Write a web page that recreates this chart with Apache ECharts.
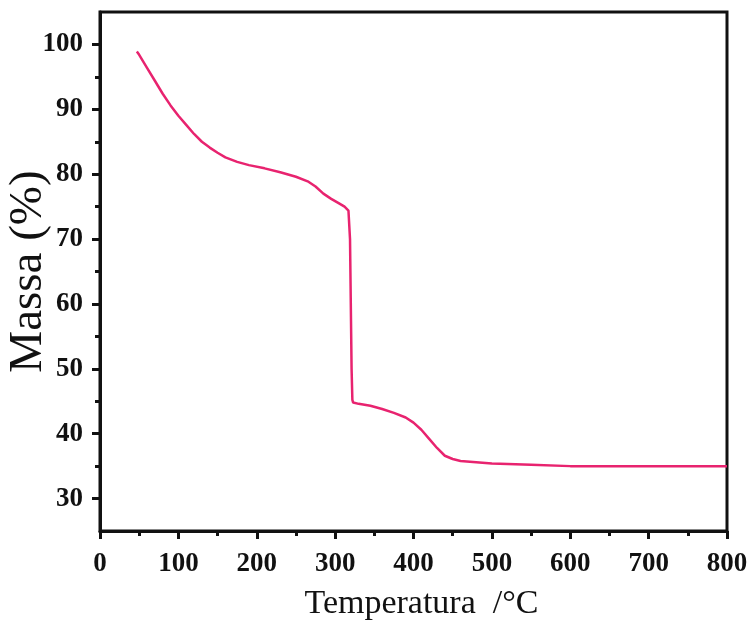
<!DOCTYPE html>
<html>
<head>
<meta charset="utf-8">
<script src="https://cdn.jsdelivr.net/npm/echarts@6/dist/echarts.min.js"></script>
<style>
html,body{margin:0;padding:0;background:#fff;}
#chart{width:749px;height:627px;}
</style>
</head>
<body>
<div id="chart"></div>
<script>
var temperature = [47, 50, 60, 70, 80, 90, 100, 110, 120, 130, 140, 150, 160, 175, 190, 210, 230, 250, 265, 275, 285, 295, 305, 312, 317, 319, 320, 321, 322, 323, 330, 345, 360, 375, 390, 400, 410, 420, 430, 440, 450, 460, 480, 500, 550, 600, 650, 700, 750, 800];
var massa = [98.9, 98.4, 96.4, 94.4, 92.4, 90.6, 89.0, 87.6, 86.2, 85.0, 84.1, 83.3, 82.6, 81.9, 81.4, 80.9, 80.3, 79.6, 78.9, 78.1, 77.0, 76.2, 75.5, 75.0, 74.4, 70, 60, 50, 45.2, 44.8, 44.6, 44.3, 43.8, 43.2, 42.5, 41.7, 40.6, 39.2, 37.8, 36.6, 36.1, 35.8, 35.6, 35.4, 35.2, 35.0, 35.0, 35.0, 35.0, 35.0];
var yMajorTicks = [30, 40, 50, 60, 70, 80, 90, 100];
var yMinorTicks = [35, 45, 55, 65, 75, 85, 95];
var xTitle = 'Temperatura  /°C';
var yTitle = 'Massa (%)';

var pts = temperature.map(function (t, i) { return [t, massa[i]]; });
var serif = '"Liberation Serif", "DejaVu Serif", serif';

var chart = echarts.init(document.getElementById('chart'), null, {renderer: 'canvas'});
chart.setOption({
  animation: false,
  backgroundColor: '#fff',
  grid: {left: 100, right: 22, top: 12, bottom: 96, containLabel: false, outerBoundsMode: 'none', show: true, borderColor: '#111', borderWidth: 3, backgroundColor: 'transparent'},
  xAxis: {
    type: 'value', min: 0, max: 800, interval: 100,
    name: xTitle, nameLocation: 'middle', nameGap: 56, nameMoveOverlap: false,
    nameTextStyle: {fontFamily: serif, fontSize: 34, color: '#111', padding: [0, 0, 0, 16]},
    axisLine: {show: true, onZero: false, lineStyle: {color: '#111', width: 3}},
    axisTick: {show: true, inside: false, length: 8, lineStyle: {color: '#111', width: 3}},
    minorTick: {show: true, splitNumber: 2, length: 5, lineStyle: {color: '#111', width: 3}},
    axisLabel: {fontFamily: serif, fontWeight: 'bold', fontSize: 27, color: '#111', margin: 20},
    splitLine: {show: false}
  },
  yAxis: [{
    type: 'value', min: 25, max: 105,
    name: yTitle, nameLocation: 'middle', nameGap: 48, nameRotate: 90, nameMoveOverlap: false,
    nameTextStyle: {fontFamily: serif, fontSize: 47, color: '#111'},
    axisLine: {show: true, onZero: false, lineStyle: {color: '#111', width: 3}},
    axisTick: {show: true, inside: false, length: 8, customValues: yMajorTicks, lineStyle: {color: '#111', width: 3}},
    axisLabel: {fontFamily: serif, fontWeight: 'bold', fontSize: 27, color: '#111', margin: 17, customValues: yMajorTicks},
    splitLine: {show: false}
  }, {
    type: 'value', min: 25, max: 105, position: 'left',
    axisLine: {show: false},
    axisTick: {show: true, inside: false, length: 5, customValues: yMinorTicks, lineStyle: {color: '#111', width: 3}},
    axisLabel: {show: false},
    splitLine: {show: false}
  }],
  series: [{
    type: 'line',
    data: pts,
    yAxisIndex: 0,
    showSymbol: false,
    smooth: false,
    lineStyle: {color: '#e8236f', width: 2.5},
    z: 5
  }]
});
</script>
</body>
</html>
